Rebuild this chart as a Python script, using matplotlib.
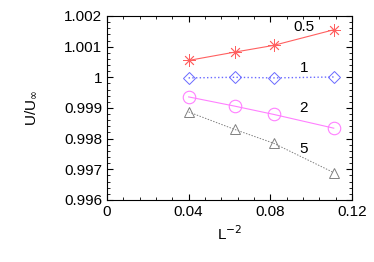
import numpy as np
import matplotlib.pyplot as plt
from matplotlib.ticker import MultipleLocator, FixedLocator

plt.rcParams['font.family'] = ['Liberation Sans', 'DejaVu Sans']

# L^-2 values (L = 5, 4, 3.5, 3)
x = [0.04, 0.0625, 0.0816, 0.1111]
u_05 = [1.00055, 1.00082, 1.00104, 1.00155]
u_1 = [0.99998, 1.00000, 0.99998, 1.00001]
u_2 = [0.99936, 0.99906, 0.99879, 0.99834]
u_5 = [0.99887, 0.99830, 0.99785, 0.99689]
labels = ['0.5', '1', '2', '5']
label_pos = [(0.0965, 1.00165), (0.0965, 1.0003), (0.0965, 0.99900), (0.0965, 0.99765)]

fig = plt.figure(figsize=(3.74, 2.62), dpi=100)
ax = fig.add_axes([0.286, 0.237, 0.655, 0.702])

ax.plot(x, u_05, '-', color='#ff6060', lw=0.8, marker=(8, 2, 0), ms=9, mew=0.6)
ax.plot(x, u_1, ':', color='#6a6aff', lw=1.0, marker='D', ms=6, mfc='none', mew=0.7)
ax.plot(x, u_2, '-', color='#ff80ff', lw=0.8, marker='o', ms=9, mfc='none', mew=0.8)
ax.plot(x, u_5, '--', color='#808080', lw=0.7, marker='^', ms=7, mfc='none', mew=0.7,
        dashes=(1.5, 1.5))

for t, (tx, ty) in zip(labels, label_pos):
    ax.text(tx, ty, t, fontsize=11, ha='center', va='center')

ax.set_xlim(0, 0.12)
ax.set_ylim(0.996, 1.002)
ax.set_xticks([0, 0.04, 0.08, 0.12])
ax.set_xticklabels(['0', '0.04', '0.08', '0.12'])
ax.set_yticks([0.996, 0.997, 0.998, 0.999, 1.0, 1.001, 1.002])
ax.set_yticklabels(['0.996', '0.997', '0.998', '0.999', '1', '1.001', '1.002'])
ax.xaxis.set_minor_locator(MultipleLocator(0.008))
ax.yaxis.set_minor_locator(MultipleLocator(0.0002))
ax.tick_params(which='both', direction='in', top=True, right=True, labelsize=11)
ax.tick_params(which='major', length=4, width=0.8)
ax.tick_params(which='minor', length=2.5, width=0.6)
for s in ax.spines.values():
    s.set_linewidth(0.8)

ax.set_xlabel('L$^{-2}$', fontsize=11)
ax.set_ylabel(r'U/U$_\infty$', fontsize=11, labelpad=18)

fig.savefig('out.png', dpi=100)
